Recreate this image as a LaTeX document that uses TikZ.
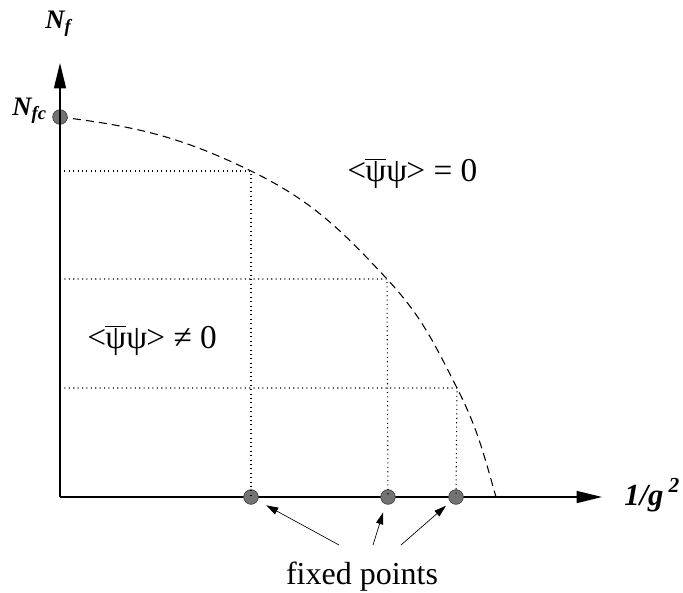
\documentclass[tikz,border=0pt]{standalone}
\usepackage{fontspec}
\setmainfont{Liberation Serif}
\usetikzlibrary{arrows.meta, positioning, calc}

\newcommand{\chiralcond}{<\kern-0.5pt$\overline{\mbox{ψ}}$ψ\kern-0.5pt>}

\begin{document}
\begin{tikzpicture}[
        x=0.75pt, y=-0.75pt, % one unit = one pixel of the sketch
        axis/.style={line width=1pt, -{Triangle[length=19pt, width=9pt]}},
        guide/.style={line width=0.8pt, dash pattern=on 0.8pt off 2.5pt},
        boundary/.style={line width=0.8pt, dash pattern=on 6pt off 3.8pt},
        fixpt/.style={circle, draw=black!75, fill=black!55, line width=0.5pt, minimum size=11pt, inner sep=0pt},
        pointer/.style={line width=0.5pt, -{Triangle[length=9pt, width=5.5pt]}},
        axislabel/.style={inner sep=0pt, font=\fontsize{20}{22}\selectfont\bfseries\itshape},
        phase/.style={inner sep=0pt, font=\fontsize{25}{28}\selectfont}
    ]
    \useasboundingbox (0,0) rectangle (683,593);

    % ==========================================
    % 1. AXES
    % ==========================================
    \coordinate (O)    at (60, 497);
    \coordinate (ytip) at (60, 63);
    \coordinate (xtip) at (602, 497);

    \draw[axis] (O) -- (xtip);

    % ==========================================
    % 2. PHASE BOUNDARY
    % ==========================================
    \coordinate (c1) at (251, 171);
    \coordinate (c2) at (387, 279);
    \coordinate (c3) at (457, 388);
    \coordinate (cE) at (496, 497);

    \draw[boundary] (60, 117) to[out=-7, in=154] (c1)
        to[out=-26, in=133] (c2)
        to[out=-47, in=117] (c3)
        to[out=-63, in=106] (cE);

    \node[fixpt] (Nfc) at (60, 117) {};
    \draw[axis] (O) -- (ytip);

    % ==========================================
    % 3. FIXED POINTS
    % ==========================================
    \node[fixpt] (fp1) at (251, 497) {};
    \node[fixpt] (fp2) at (388, 497) {};
    \node[fixpt] (fp3) at (456, 497) {};

    \draw[guide] (O |- c1) -- (c1) -- (fp1.center);
    \draw[guide] (O |- c2) -- (c2) -- (fp2.center);
    \draw[guide] (O |- c3) -- (c3) -- (fp3.center);

    % ==========================================
    % 4. LABELS
    % ==========================================
    \node[axislabel, anchor=base west] (Nf) at (45, 28) {N\textsubscript{f}};
    \node[axislabel, anchor=base east] (NfcLabel) at (47, 115) {N\textsubscript{fc}};
    \node[axislabel, anchor=base west, font=\fontsize{23}{26}\selectfont\bfseries\itshape] (ginv) at (624, 505) {1/g\,\textsuperscript{2}};

    \node[phase, anchor=base west] (sym)    at (347, 181) {\chiralcond{} = 0};
    \node[phase, anchor=base west] (broken) at (87, 348) {\chiralcond{} ≠ 0};

    \node[anchor=base, inner sep=0pt, font=\fontsize{24}{28}\selectfont] (fixlabel) at (362, 584) {fixed points};

    % pointers from the label to the fixed points
    \coordinate (t1) at (339, 545);
    \coordinate (t2) at (373, 545);
    \coordinate (t3) at (401, 545);

    \draw[pointer, shorten >=13pt] (t1) -- (fp1.center);
    \draw[pointer, shorten >=12pt] (t2) -- (fp2.center);
    \draw[pointer, shorten >=10pt] (t3) -- (fp3.center);

\end{tikzpicture}
\end{document}
